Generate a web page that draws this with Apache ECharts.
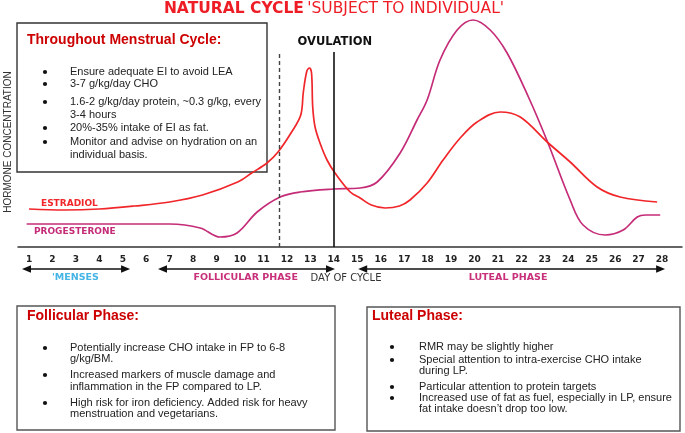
<!DOCTYPE html>
<html><head><meta charset="utf-8">
<script src="https://cdn.jsdelivr.net/npm/echarts@6/dist/echarts.min.js"></script>
<style>html,body{margin:0;padding:0;background:#fff}#c{width:685px;height:433px}</style>
</head><body><div id="c"></div>
<script>
// ---- data ----
const dayTicks = [1,2,3,4,5,6,7,8,9,10,11,12,13,14,15,16,17,18,19,20,21,22,23,24,25,26,27,28];
const estradiolDay   = [1.0,2.5,4.0,5.5,7.0,8.4,9.9,10.5,11.15,11.62,12.2,12.59,12.7,12.85,12.96,13.05,13.1,13.2,13.41,13.71,14.05,14.7,15.12,15.6,16.19,16.8,17.25,17.98,18.66,19.39,20.11,21.09,21.95,23.1,24.08,25.23,26.21,27.79];
const estradiolLevel = [38,37,38,41,45,52,65,74,84,95,115,132,155,176,179,174,140,120,104,87,74,55,49,42,39,41,47,64,87,109,125,135,130,105,85,60,50,45];
const progesteroneDay   = [0.9,3,5,7.0,8.3,9.15,9.87,10.73,11.71,12.56,13.97,15.12,15.85,16.83,17.55,17.98,18.53,19.26,19.94,20.67,21.39,22.3,23.1,24.08,24.63,25.57,26.34,26.94,27.3,27.92];
const progesteroneLevel = [23,23,23,23,19,10,14,35,50,55,58,59,65,94,127,147,187,217,227,217,194,150,106,47,22,12,17,30,32,32];
const ovulationDay = 14, ovulationTop = 195;
const dashedDay = 11.67, dashedTop = 196;
const phaseNames = ["'MENSES", 'FOLLICULAR PHASE', 'LUTEAL PHASE'];
const phaseStartDay = [0.7, 6.5, 15.04];
const phaseEndDay = [5.31, 14.05, 28.13];
const phaseLabelDay = [2.98, 10.24, 21.43];
const phaseColors = ['#45b5e6', '#c8307a', '#c8307a'];
const cycleBoxTitle = 'Throughout Menstrual Cycle:';
const cycleBoxLines = ['Ensure adequate EI to avoid LEA','3-7 g/kg/day CHO','1.6-2 g/kg/day protein, ~0.3 g/kg, every','3-4 hours','20%-35% intake of EI as fat.','Monitor and advise on hydration on an','individual basis.'];
const follBoxTitle = 'Follicular Phase:';
const follBoxLines = ['Potentially increase CHO intake in FP to 6-8','g/kg/BM.','Increased markers of muscle damage and','inflammation in the FP compared to LP.','High risk for iron deficiency. Added risk for heavy','menstruation and vegetarians.'];
const lutBoxTitle = 'Luteal Phase:';
const lutBoxLines = ['RMR may be slightly higher','Special attention to intra-exercise CHO intake','during LP.','Particular attention to protein targets','Increased use of fat as fuel, especially in LP, ensure','fat intake doesn\u2019t drop too low.'];

const zip = (a,b)=>a.map((d,i)=>[d,b[i]]);
const chart = echarts.init(document.getElementById('c'), null, {renderer:'canvas'});
const E_COLOR = '#f0262a', P_COLOR = '#c52c78';
chart.setOption({
  animation:false,
  backgroundColor:'#fff',
  grid:{left:18,right:3,top:7,bottom:186},
  xAxis:{type:'value',min:0.53,max:28.85,
    axisLine:{lineStyle:{color:'#333',width:1.5}},
    axisTick:{show:false}, splitLine:{show:false},
    axisLabel:{customValues:dayTicks, margin:8, fontFamily:'DejaVu Sans', fontWeight:'bold', fontSize:9, color:'#222'}},
  yAxis:{type:'value',min:0,max:240,show:false},
  series:[
    {name:'Estradiol',type:'line',data:zip(estradiolDay,estradiolLevel),smooth:0.35,showSymbol:false,
     lineStyle:{color:E_COLOR,width:1.7},z:3,
     markLine:{silent:true,symbol:['none','none'],label:{show:false},
       data:[
        [{coord:[ovulationDay,0],lineStyle:{type:'solid',color:'#111',width:1.6}},{coord:[ovulationDay,ovulationTop]}],
        [{coord:[dashedDay,0],lineStyle:{type:[4,3],color:'#444',width:1.4}},{coord:[dashedDay,dashedTop]}]
       ]}},
    {name:'Progesterone',type:'line',data:zip(progesteroneDay,progesteroneLevel),smooth:0.35,showSymbol:false,
     lineStyle:{color:P_COLOR,width:1.7},z:2}
  ]
});

const px = d => chart.convertToPixel({xAxisIndex:0}, d);
const py = v => chart.convertToPixel({yAxisIndex:0}, v);
const g = [];
// title
g.push({type:'text',x:334,y:9,style:{text:'{b|NATURAL CYCLE} {r|\'SUBJECT TO INDIVIDUAL\'}',align:'center',verticalAlign:'middle',
  rich:{b:{font:'bold 15.5px "DejaVu Sans"',fill:'#ee1c25'},r:{font:'15.5px "DejaVu Sans"',fill:'#ee1c25'}}}});
// y title
g.push({type:'text',x:8,y:142,rotation:Math.PI/2,style:{text:'HORMONE CONCENTRATION',align:'center',verticalAlign:'middle',font:'10px "Liberation Sans"',fill:'#333'}});
// ovulation
g.push({type:'text',x:px(ovulationDay)+1,y:42,style:{text:'OVULATION',align:'center',verticalAlign:'middle',font:'bold 11.5px "DejaVu Sans"',fill:'#111'}});
// series labels
g.push({type:'text',x:px(1.51),y:py(43),style:{text:'ESTRADIOL',align:'left',verticalAlign:'middle',font:'bold 9px "DejaVu Sans"',fill:E_COLOR}});
g.push({type:'text',x:px(1.21),y:py(15),style:{text:'PROGESTERONE',align:'left',verticalAlign:'middle',font:'bold 9px "DejaVu Sans"',fill:P_COLOR}});
// phase arrows
const AY = 269;
phaseNames.forEach((n,i)=>{
  const x1 = px(phaseStartDay[i]), x2 = px(phaseEndDay[i]);
  g.push({type:'line',shape:{x1:x1+5,y1:AY,x2:x2-5,y2:AY},style:{stroke:'#111',lineWidth:1.5}});
  g.push({type:'polygon',shape:{points:[[x1,AY],[x1+9,AY-3.8],[x1+9,AY+3.8]]},style:{fill:'#111'}});
  g.push({type:'polygon',shape:{points:[[x2,AY],[x2-9,AY-3.8],[x2-9,AY+3.8]]},style:{fill:'#111'}});
  g.push({type:'text',x:px(phaseLabelDay[i]),y:278,style:{text:n,align:'center',verticalAlign:'middle',font:'bold 9.5px "DejaVu Sans"',fill:phaseColors[i]}});
});
g.push({type:'text',x:346,y:278,style:{text:'DAY OF CYCLE',align:'center',verticalAlign:'middle',font:'10px "DejaVu Sans"',fill:'#333'}});

function box(x0,y0,x1,y1,title,tx,ty,lines,bx,lx,ys,bulletIdx,stroke){
  g.push({type:'rect',shape:{x:x0,y:y0,width:x1-x0,height:y1-y0},style:{fill:'rgba(255,255,255,0)',stroke:stroke,lineWidth:1.4}});
  g.push({type:'text',x:tx,y:ty,style:{text:title,align:'left',verticalAlign:'middle',font:'bold 14px "Liberation Sans"',fill:'#cc0000'}});
  lines.forEach((t,i)=>{
    g.push({type:'text',x:lx,y:ys[i],style:{text:t,align:'left',verticalAlign:'middle',font:'11px "Liberation Sans"',fill:'#222'}});
    if (bulletIdx.indexOf(i)>=0) g.push({type:'circle',shape:{cx:bx,cy:ys[i],r:2.1},style:{fill:'#111'}});
  });
}
box(17,23,267,172,cycleBoxTitle,27,40,cycleBoxLines,45,70,[72,84,102,115,128,142,155],[0,1,2,4,5],'#333');
box(17,306,335,430,follBoxTitle,27,316,follBoxLines,45,70,[348,359,375,387,403,414],[0,2,4],'#555');
box(367,307,680,431,lutBoxTitle,372,316,lutBoxLines,392,419,[347,360,371,387,398,409],[0,1,3,4],'#555');

chart.setOption({graphic:g});
</script></body></html>
